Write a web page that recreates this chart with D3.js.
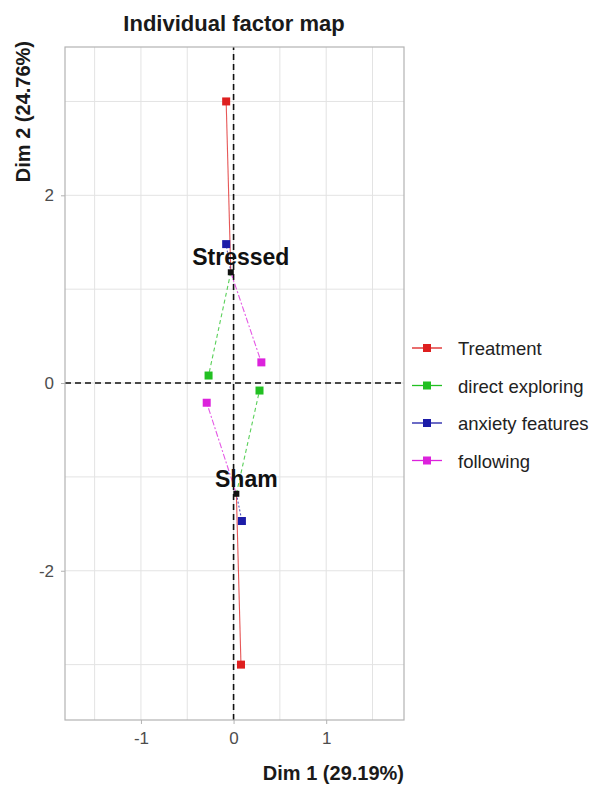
<!DOCTYPE html>
<html>
<head>
<meta charset="utf-8">
<script src="https://cdn.jsdelivr.net/npm/d3@7"></script>
<style>
  body { margin: 0; background: #fff; }
  svg { font-family: "Liberation Sans", Arial, sans-serif; }
</style>
</head>
<body>
<svg id="chart" width="596" height="786"></svg>
<script>
// groups (individuals) and their mean points
var groups = ['Stressed', 'Sham'];
var centerX = [-0.03, 0.03];
var centerY = [1.18, -1.18];

// partial points per variable group, one value per individual
var series = ['Treatment', 'direct exploring', 'anxiety features', 'following'];
var partialX = [
    [-0.08, 0.08],
    [-0.27, 0.28],
    [-0.08, 0.09],
    [0.30, -0.29]
];
var partialY = [
    [3.00, -3.00],
    [0.08, -0.08],
    [1.48, -1.47],
    [0.22, -0.21]
];
var colors = ['#de1f1f', '#22c022', '#1c1ca8', '#dc22dc'];
var dashes = [null, '4,3', '2,2', '6,2,2,2'];

var xTicks = [-1, 0, 1];
var yTicks = [-2, 0, 2];
var xMinor = [-1.5, -0.5, 0.5, 1.5];
var yMinor = [-3, -1, 1, 3];

var svg = d3.select('#chart');

var x = d3.scaleLinear().domain([-1.82, 1.84]).range([65, 404]);
var y = d3.scaleLinear().domain([-3.59, 3.58]).range([720, 47]);

/*============ GRID ============*/
var grid = svg.append('g').attr('class', 'grid');

grid.selectAll('line.gx')
    .data(xTicks.concat(xMinor))
    .enter().append('line')
    .attr('x1', function (d) { return x(d); })
    .attr('x2', function (d) { return x(d); })
    .attr('y1', y.range()[0])
    .attr('y2', y.range()[1])
    .attr('stroke', '#e3e3e3')
    .attr('stroke-width', 1);

grid.selectAll('line.gy')
    .data(yTicks.concat(yMinor))
    .enter().append('line')
    .attr('y1', function (d) { return y(d); })
    .attr('y2', function (d) { return y(d); })
    .attr('x1', x.range()[0])
    .attr('x2', x.range()[1])
    .attr('stroke', '#e3e3e3')
    .attr('stroke-width', 1);

/*============ AXES ============*/
var xAxis = svg.append('g')
    .attr('transform', 'translate(0,' + y.range()[0] + ')')
    .call(d3.axisBottom(x).tickValues(xTicks).tickSize(4).tickPadding(8).tickFormat(d3.format('d')));

var yAxis = svg.append('g')
    .attr('transform', 'translate(' + x.range()[0] + ',0)')
    .call(d3.axisLeft(y).tickValues(yTicks).tickSize(4).tickPadding(7).tickFormat(d3.format('d')));

[xAxis, yAxis].forEach(function (ax) {
    ax.select('.domain').remove();
    ax.selectAll('.tick line').attr('stroke', '#b3b3b3');
    ax.selectAll('.tick text')
        .attr('fill', '#4d4d4d')
        .attr('font-size', '17px')
        .attr('font-family', '"Liberation Sans", Arial, sans-serif')
        .text(function (d) { return d < 0 ? '-' + Math.abs(d) : d; });
});

// zero reference lines
svg.append('line')
    .attr('x1', x(0)).attr('x2', x(0))
    .attr('y1', y.range()[0]).attr('y2', y.range()[1])
    .attr('stroke', '#111').attr('stroke-width', 1.6)
    .attr('stroke-dasharray', '6,4');

svg.append('line')
    .attr('y1', y(0)).attr('y2', y(0))
    .attr('x1', x.range()[0]).attr('x2', x.range()[1])
    .attr('stroke', '#111').attr('stroke-width', 1.6)
    .attr('stroke-dasharray', '6,4');

// panel border
svg.append('rect')
    .attr('x', x.range()[0])
    .attr('y', y.range()[1])
    .attr('width', x.range()[1] - x.range()[0])
    .attr('height', y.range()[0] - y.range()[1])
    .attr('fill', 'none')
    .attr('stroke', '#b3b3b3')
    .attr('stroke-width', 1.2);

/*============ PARTIAL LINES AND POINTS ============*/
var marks = svg.append('g').attr('class', 'marks');

series.forEach(function (s, si) {
    groups.forEach(function (g, gi) {
        marks.append('line')
            .attr('x1', x(centerX[gi]))
            .attr('y1', y(centerY[gi]))
            .attr('x2', x(partialX[si][gi]))
            .attr('y2', y(partialY[si][gi]))
            .attr('stroke', colors[si])
            .attr('stroke-opacity', 0.75)
            .attr('stroke-width', 1.1)
            .attr('stroke-dasharray', dashes[si]);
    });
});

series.forEach(function (s, si) {
    groups.forEach(function (g, gi) {
        marks.append('rect')
            .attr('x', x(partialX[si][gi]) - 4)
            .attr('y', y(partialY[si][gi]) - 4)
            .attr('width', 8)
            .attr('height', 8)
            .attr('fill', colors[si]);
    });
});

groups.forEach(function (g, gi) {
    marks.append('rect')
        .attr('x', x(centerX[gi]) - 3)
        .attr('y', y(centerY[gi]) - 3)
        .attr('width', 6)
        .attr('height', 6)
        .attr('fill', '#111');

    marks.append('text')
        .attr('x', x(centerX[gi]) + 10)
        .attr('y', y(centerY[gi]) - 7)
        .attr('text-anchor', 'middle')
        .attr('font-size', '23px')
        .attr('font-weight', 'bold')
        .attr('fill', '#111')
        .text(g);
});

/*============ TITLES ============*/
svg.append('text')
    .attr('x', 234)
    .attr('y', 31)
    .attr('text-anchor', 'middle')
    .attr('font-size', '22px')
    .attr('font-weight', 'bold')
    .attr('fill', '#1a1a1a')
    .text('Individual factor map');

svg.append('text')
    .attr('x', x.range()[1])
    .attr('y', 780)
    .attr('text-anchor', 'end')
    .attr('font-size', '20px')
    .attr('font-weight', 'bold')
    .attr('fill', '#1a1a1a')
    .text('Dim 1 (29.19%)');

svg.append('text')
    .attr('transform', 'translate(30,' + (y.range()[1] - 6) + ') rotate(-90)')
    .attr('text-anchor', 'end')
    .attr('font-size', '20px')
    .attr('font-weight', 'bold')
    .attr('fill', '#1a1a1a')
    .text('Dim 2 (24.76%)');

/*============ LEGEND ============*/
var legend = svg.append('g').attr('transform', 'translate(412,348)');

var items = legend.selectAll('g.item')
    .data(series)
    .enter().append('g')
    .attr('transform', function (d, i) { return 'translate(0,' + (i * 37.5) + ')'; });

items.append('line')
    .attr('x1', 0).attr('x2', 30)
    .attr('stroke', function (d, i) { return colors[i]; })
    .attr('stroke-width', 1.3);

items.append('rect')
    .attr('x', 11).attr('y', -4)
    .attr('width', 8).attr('height', 8)
    .attr('fill', function (d, i) { return colors[i]; });

items.append('text')
    .attr('x', 46)
    .attr('y', 7)
    .attr('font-size', '18.5px')
    .attr('fill', '#222')
    .text(function (d) { return d; });
</script>
</body>
</html>
